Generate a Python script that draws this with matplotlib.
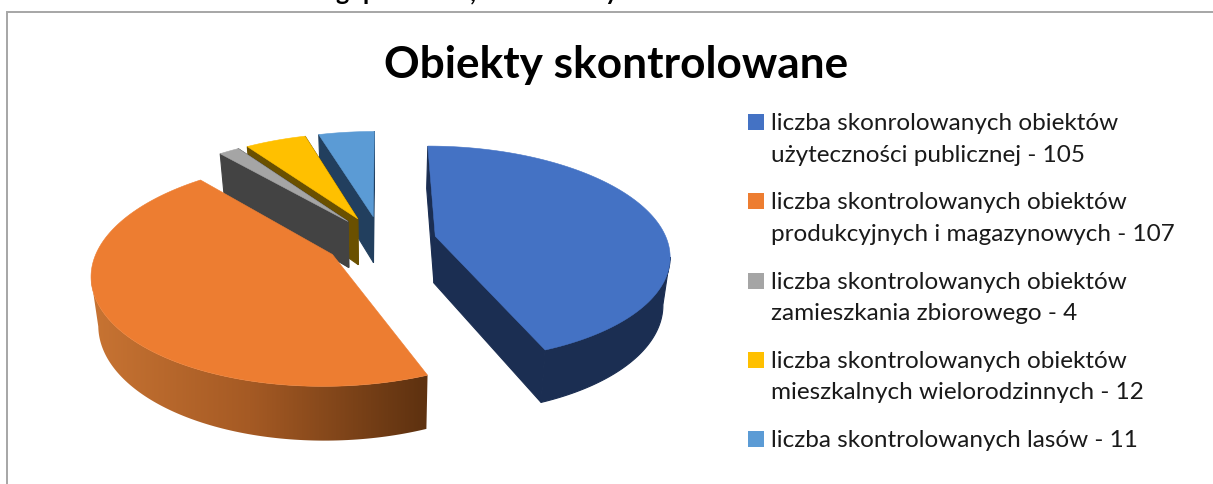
import numpy as np
import matplotlib
matplotlib.use("Agg")
import matplotlib.pyplot as plt
from matplotlib.patches import Rectangle, Polygon

# ---- data ----
title = "Obiekty skontrolowane"
values = [105, 107, 4, 12, 11]
label_lines = [
    ["liczba skonrolowanych obiektów", "użyteczności publicznej - 105"],
    ["liczba skontrolowanych obiektów", "produkcyjnych i magazynowych - 107"],
    ["liczba skontrolowanych obiektów", "zamieszkania zbiorowego - 4"],
    ["liczba skontrolowanych obiektów", "mieszkalnych wielorodzinnych - 12"],
    ["liczba skontrolowanych lasów - 11"],
]
top_colors = ["#4472C4", "#ED7D31", "#A5A5A5", "#FFC000", "#5B9BD5"]
side_colors = ["#1B2E52", None, "#434343", "#6A5000", "#223F5E"]

# ---- layout ----
W, H = 1213, 484
CX, CY = 381, 241
RX, RY, K = 232, 106, 0.16
EXPLODE = 0.24
DEPTH = 47
BOT_SX, BOT_SY = 0.975, 1.05
FONT = "Lato"


def project(px, py):
    p = 1 / (1 + K * py)
    return CX + RX * px * p, CY - RY * py * p


def bottom(x, y):
    return CX + (x - CX) * BOT_SX, CY + (y - CY) * BOT_SY + DEPTH


fig = plt.figure(figsize=(W / 100, H / 100), dpi=100)
ax = fig.add_axes([0, 0, 1, 1])

# horizontal shading used on the orange slice's rim
rim_x = np.linspace(88, 428, 256)
rim_stops = np.array([[200, 116, 51], [165, 90, 36], [95, 50, 16]]) / 255
rim_rgb = np.stack([np.interp(rim_x, [90, 250, 423], rim_stops[:, c]) for c in range(3)], axis=-1)[None, :, :]

total = sum(values)
edges = np.concatenate([[0], np.cumsum(values)]) / total * 2 * np.pi

for order, i in enumerate([4, 3, 2, 1, 0]):
    a0, a1 = edges[i], edges[i + 1]
    mid = (a0 + a1) / 2
    ex, ey = EXPLODE * np.sin(mid), EXPLODE * np.cos(mid)
    th = np.linspace(a0, a1, max(int(np.degrees(a1 - a0)), 6) + 1)
    xs, ys = project(ex + np.sin(th), ey + np.cos(th))
    ax_, ay_ = project(ex, ey)
    bxs, bys = bottom(xs, ys)
    bax, bay = bottom(ax_, ay_)
    z = 2 + order
    # only the part of the rim that faces the viewer (x falls as the angle grows)
    front = np.flatnonzero(np.diff(xs) < 0)
    rim_pts = None
    if front.size:
        idx = np.arange(front[0], front[-1] + 2)
        rim_pts = np.column_stack([np.r_[xs[idx], bxs[idx][::-1]], np.r_[ys[idx], bys[idx][::-1]]])
    if side_colors[i]:
        if rim_pts is not None:
            ax.add_patch(Polygon(rim_pts, closed=True, fc=side_colors[i], ec=side_colors[i], lw=0.8, zorder=z))
        for k in (0, -1):
            ax.add_patch(Polygon([(ax_, ay_), (xs[k], ys[k]), (bxs[k], bys[k]), (bax, bay)],
                                 closed=True, fc=side_colors[i], ec=side_colors[i], lw=0.8, zorder=z))
    else:
        clip = Polygon(rim_pts, closed=True, transform=ax.transData, fc="none", ec="none")
        ax.add_patch(clip)
        img = ax.imshow(rim_rgb, extent=[rim_x[0], rim_x[-1], 460, 200], aspect="auto",
                        interpolation="bilinear", zorder=z)
        img.set_clip_path(clip)
    ax.add_patch(Polygon(np.column_stack([np.r_[ax_, xs], np.r_[ay_, ys]]), closed=True,
                         fc=top_colors[i], ec=top_colors[i], lw=0.4, zorder=z + 0.5))

ax.set_xlim(0, W)
ax.set_ylim(H, 0)
ax.axis("off")

ax.plot([7, 7, W], [H, 11.5, 11.5], color="#A6A6A6", lw=1.4, solid_joinstyle="miter", zorder=1)

ax.text(616, 78, title, fontsize=31.8, fontweight="bold", family=FONT, ha="center", va="baseline", color="#000000")

# cut-off heading above the frame
for gx, g in zip([342, 370, 473, 612], "gp,y"):
    ax.text(gx, 0, g, fontsize=18, fontweight="bold", family=FONT, ha="center", va="baseline",
            color="#000000", clip_on=True)

# legend
y = 130
for lines, col in zip(label_lines, top_colors):
    ax.add_patch(Rectangle((748, y - 16), 16, 16, fc=col, ec="none", zorder=10))
    for n, line in enumerate(lines):
        ax.text(771, y + n * 31.5, line, fontsize=17.5, family=FONT, ha="left", va="baseline", color="#1a1a1a")
    y += 79.3

fig.savefig("out.png", dpi=100)
